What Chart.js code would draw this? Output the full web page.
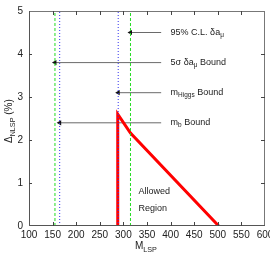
<!DOCTYPE html>
<html>
<head>
<meta charset="utf-8">
<script src="https://cdn.jsdelivr.net/npm/chart.js@4"></script>
<style>
  html, body { margin: 0; padding: 0; background: #fff; }
  #wrap { width: 270px; height: 253px; }
</style>
</head>
<body>
<div id="wrap"><canvas id="myChart" width="270" height="253"></canvas></div>
<script>
// Axis ranges
var xMin = 100, xMax = 600, xStep = 50;
var yMin = 0, yMax = 5, yStep = 1;

// Allowed region boundary (red)
var curveX = [288, 288, 315, 502];
var curveY = [0, 2.6, 2.16, 0];

// Vertical bounds
var greenBounds = [155, 315];
var blueBounds = [165, 289];

// Arrows: height, tip position, tail position
var arrowY = [4.5, 3.8, 3.1, 2.4];
var arrowTip = [315, 155, 289, 165];
var arrowTail = 380;

// Arrow labels, parts with a flag for subscript
var arrowLabels = [
  [["95% C.L. \u03b4a", 0], ["\u03bc", 1]],
  [["5\u03c3 \u03b4a", 0], ["\u03bc", 1], [" Bound", 0]],
  [["m", 0], ["Higgs", 1], [" Bound", 0]],
  [["m", 0], ["b", 1], [" Bound", 0]]
];
var labelX = 400;

var regionText = ["Allowed", "Region"];
var regionX = 332;
var regionY = [0.8, 0.4];

function pts(xs, ys) {
  return xs.map(function (x, i) { return { x: x, y: ys[i] }; });
}

var datasets = [];
greenBounds.forEach(function (b) {
  datasets.push({
    data: pts([b, b], [yMin, yMax]),
    borderColor: "#22dd22",
    borderWidth: 1,
    borderDash: [3, 2],
    pointRadius: 0
  });
});
blueBounds.forEach(function (b) {
  datasets.push({
    data: pts([b, b], [yMin, yMax]),
    borderColor: "#3333ee",
    borderWidth: 1,
    borderDash: [1, 2],
    pointRadius: 0
  });
});
datasets.push({
  data: pts(curveX, curveY),
  borderColor: "#ff0000",
  borderWidth: 3,
  pointRadius: 0
});
arrowY.forEach(function (y, i) {
  datasets.push({
    data: pts([arrowTail, arrowTip[i]], [y, y]),
    borderColor: "#6a6a6a",
    borderWidth: 1,
    pointRadius: [0, 3],
    pointStyle: "triangle",
    rotation: -90,
    pointBackgroundColor: "#111",
    pointBorderColor: "#111",
    pointBorderWidth: 0
  });
});

function drawRich(ctx, parts, x, y, size) {
  parts.forEach(function (p) {
    if (p[1]) {
      ctx.font = (size * 0.72) + "px 'Liberation Sans', Arial, sans-serif";
      ctx.fillText(p[0], x, y + size * 0.3);
    } else {
      ctx.font = size + "px 'Liberation Sans', Arial, sans-serif";
      ctx.fillText(p[0], x, y);
    }
    x += ctx.measureText(p[0]).width;
  });
  return x;
}

var decor = {
  id: "decor",
  afterDatasetsDraw: function (chart) {
    var ctx = chart.ctx, a = chart.chartArea;
    var xs = chart.scales.x, ys = chart.scales.y;
    ctx.save();
    // frame
    ctx.strokeStyle = "#777";
    ctx.lineWidth = 1;
    ctx.strokeRect(a.left + 0.5, a.top + 0.5, a.right - a.left - 1, a.bottom - a.top - 1);
    ctx.strokeStyle = "#555";
    ctx.beginPath();
    ctx.moveTo(a.left + 0.5, a.top);
    ctx.lineTo(a.left + 0.5, a.bottom - 0.5);
    ctx.lineTo(a.right, a.bottom - 0.5);
    ctx.stroke();
    // inward ticks
    ctx.strokeStyle = "#444";
    ctx.beginPath();
    for (var v = xMin + xStep; v < xMax; v += xStep) {
      var px = Math.round(xs.getPixelForValue(v)) + 0.5;
      ctx.moveTo(px, a.bottom); ctx.lineTo(px, a.bottom - 4);
      ctx.moveTo(px, a.top); ctx.lineTo(px, a.top + 4);
    }
    for (var w = yMin + yStep; w < yMax; w += yStep) {
      var py = Math.round(ys.getPixelForValue(w)) + 0.5;
      ctx.moveTo(a.left, py); ctx.lineTo(a.left + 3, py);
      ctx.moveTo(a.right, py); ctx.lineTo(a.right - 4, py);
    }
    ctx.stroke();
    // arrow labels
    ctx.fillStyle = "#222";
    ctx.textBaseline = "middle";
    ctx.textAlign = "left";
    arrowLabels.forEach(function (parts, i) {
      drawRich(ctx, parts, xs.getPixelForValue(labelX), ys.getPixelForValue(arrowY[i]), 9);
    });
    // region text
    ctx.font = "9px 'Liberation Sans', Arial, sans-serif";
    regionText.forEach(function (t, i) {
      ctx.fillText(t, xs.getPixelForValue(regionX), ys.getPixelForValue(regionY[i]));
    });
    // x title
    ctx.fillStyle = "#222";
    ctx.textBaseline = "alphabetic";
    drawRich(ctx, [["M", 0], ["LSP", 1]], 135, 249, 10);
    // y title
    ctx.translate(12, 143);
    ctx.rotate(-Math.PI / 2);
    drawRich(ctx, [["\u0394", 0], ["NLSP", 1], [" (%)", 0]], 0, 0, 10);
    ctx.restore();
  }
};

var ctx = document.getElementById("myChart");
var myChart = new Chart(ctx, {
  type: "line",
  data: { datasets: datasets },
  options: {
    responsive: false,
    animation: false,
    layout: { padding: { top: 11, right: 5, left: 0, bottom: 0 } },
    plugins: { legend: { display: false }, tooltip: { enabled: false } },
    scales: {
      x: {
        type: "linear",
        min: xMin, max: xMax,
        grid: { display: false, drawTicks: false, tickLength: 0 },
        border: { display: false },
        ticks: {
          stepSize: xStep,
          padding: 3,
          color: "#222",
          maxRotation: 0,
          autoSkip: false,
          font: { family: "'Liberation Sans', Arial, sans-serif", size: 10 }
        },
        afterFit: function (s) { s.height = 27; s.paddingLeft = 0; s.paddingRight = 0; }
      },
      y: {
        type: "linear",
        min: yMin, max: yMax,
        grid: { display: false, drawTicks: false, tickLength: 0 },
        border: { display: false },
        ticks: {
          stepSize: yStep,
          padding: 6,
          color: "#222",
          font: { family: "'Liberation Sans', Arial, sans-serif", size: 10 }
        },
        afterFit: function (s) { s.width = 29; s.paddingTop = 0; s.paddingBottom = 0; }
      }
    }
  },
  plugins: [decor]
});
</script>
</body>
</html>
